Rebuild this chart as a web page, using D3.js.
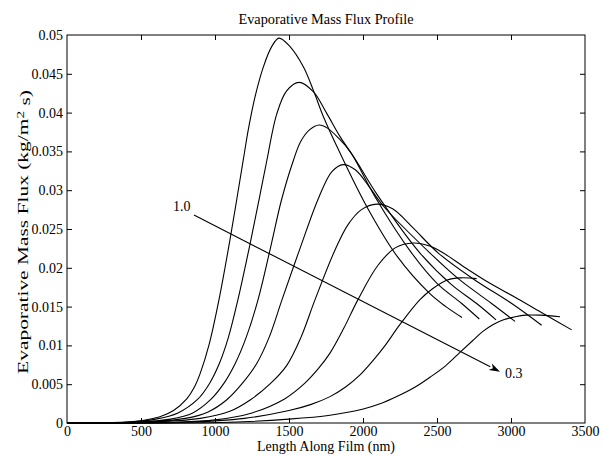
<!DOCTYPE html>
<html><head><meta charset="utf-8">
<script src="https://cdn.jsdelivr.net/npm/d3@7"></script>
<style>
body{margin:0;background:#fff}
svg text{font-family:"Liberation Serif","Times New Roman",Times,serif;fill:#000}
</style>
</head><body>
<svg id="chart" width="603" height="455" font-family="Liberation Serif, Times New Roman, serif"></svg>
<script>
// ---- data ----
const xTicks = [0, 500, 1000, 1500, 2000, 2500, 3000, 3500];
const yTicks = [0, 0.005, 0.01, 0.015, 0.02, 0.025, 0.03, 0.035, 0.04, 0.045, 0.05];
const yTickLabels = ["0", "0.005", "0.01", "0.015", "0.02", "0.025", "0.03", "0.035", "0.04", "0.045", "0.05"];
const seriesNames = ["1.0", "0.9", "0.8", "0.7", "0.6", "0.5", "0.4", "0.3"];

const s10 = [[0,0],[300,0.00005],[500,0.0003],[628,0.0008],[720,0.0016],[809,0.0031],[860,0.0046],[900,0.0064],[960,0.0101],[1027,0.0159],[1101,0.0236],[1191,0.0339],[1225,0.0378],[1270,0.0420],[1327,0.0459],[1383,0.0485],[1432,0.0496],[1507,0.0485],[1597,0.0459],[1664,0.0429],[1732,0.0395],[1832,0.0353],[2025,0.0279],[2230,0.0215],[2450,0.0167],[2560,0.0150],[2669,0.0136]];
const s09 = [[0,0],[400,0.0001],[600,0.0005],[750,0.0013],[880,0.0030],[960,0.0050],[1030,0.0077],[1090,0.0110],[1155,0.0159],[1236,0.0230],[1300,0.0290],[1349,0.0337],[1417,0.0398],[1484,0.0428],[1568,0.0439],[1664,0.0427],[1755,0.0399],[1845,0.0369],[1935,0.0343],[2080,0.0292],[2329,0.0219],[2500,0.0180],[2667,0.0154],[2786,0.0134]];
const s08 = [[0,0],[450,0.0001],[700,0.0005],[850,0.0013],[970,0.0030],[1060,0.0051],[1135,0.0076],[1210,0.0110],[1291,0.0159],[1380,0.0230],[1450,0.0288],[1529,0.0338],[1580,0.0363],[1640,0.0378],[1703,0.0384],[1760,0.0380],[1840,0.0366],[1912,0.0350],[2100,0.0293],[2385,0.0219],[2600,0.0178],[2768,0.0154],[2899,0.0133]];
const s07 = [[0,0],[500,0.0001],[800,0.0006],[950,0.0014],[1080,0.0030],[1180,0.0050],[1280,0.0076],[1365,0.0110],[1453,0.0159],[1580,0.0228],[1700,0.0290],[1790,0.0324],[1867,0.0333],[1950,0.0326],[2040,0.0305],[2140,0.0279],[2453,0.0219],[2650,0.0185],[2869,0.0154],[3027,0.0131]];
const s06 = [[0,0],[550,0.0001],[900,0.0006],[1100,0.0015],[1240,0.0030],[1370,0.0050],[1484,0.0074],[1580,0.0110],[1676,0.0159],[1811,0.0223],[1900,0.0256],[1990,0.0275],[2092,0.0282],[2200,0.0276],[2330,0.0253],[2509,0.0219],[2750,0.0185],[3005,0.0154],[3207,0.0126]];
const s05 = [[0,0],[700,0.0001],[1000,0.0004],[1250,0.0013],[1470,0.0031],[1600,0.0050],[1698,0.0070],[1777,0.0090],[1870,0.0122],[1966,0.0159],[2100,0.0203],[2220,0.0226],[2341,0.0232],[2450,0.0228],[2543,0.0219],[2700,0.0199],[2858,0.0180],[3019,0.0163],[3200,0.0143],[3410,0.0120]];
const s04 = [[0,0],[800,0.0001],[1200,0.0006],[1500,0.0016],[1650,0.0024],[1777,0.0034],[1880,0.0046],[1980,0.0062],[2070,0.0081],[2150,0.0100],[2250,0.0127],[2385,0.0159],[2470,0.0173],[2565,0.0184],[2660,0.0187],[2768,0.0186]];
const s03 = [[0,0],[1100,0.0001],[1500,0.0005],[1777,0.0010],[2002,0.0018],[2120,0.0025],[2228,0.0034],[2350,0.0046],[2453,0.0059],[2560,0.0074],[2655,0.0091],[2740,0.0106],[2810,0.0118],[2880,0.0127],[2950,0.0133],[3030,0.0137],[3100,0.0139],[3200,0.0139],[3331,0.0137]];

// annotation arrow (data coordinates)
const arrowStart = [858, 0.0268];
const arrowEnd = [2926, 0.0066];
const labelFirst = [716, 0.0273];
const labelLast = [2959, 0.0058];

// ---- drawing ----
const series = [s10, s09, s08, s07, s06, s05, s04, s03];
const svg = d3.select("#chart");
const L = 67, R = 585, T = 35, B = 423;
const x = d3.scaleLinear().domain([0, 3500]).range([L, R]);
const y = d3.scaleLinear().domain([0, 0.05]).range([B, T]);
const FF = '"Liberation Serif","Times New Roman",Times,serif';
const fs = "14px";

svg.append("rect").attr("width", 603).attr("height", 455).attr("fill", "#fff");

const gB = svg.append("g").attr("transform", `translate(0,${B})`)
  .call(d3.axisBottom(x).tickValues(xTicks).tickFormat(d3.format("d")).tickSizeInner(-5).tickSizeOuter(0).tickPadding(3));
const gT = svg.append("g").attr("transform", `translate(0,${T})`)
  .call(d3.axisTop(x).tickValues(xTicks).tickFormat("").tickSizeInner(-5).tickSizeOuter(0));
const gL = svg.append("g").attr("transform", `translate(${L},0)`)
  .call(d3.axisLeft(y).tickValues(yTicks).tickFormat((d, i) => yTickLabels[i]).tickSizeInner(-5).tickSizeOuter(0).tickPadding(4));
const gR = svg.append("g").attr("transform", `translate(${R},0)`)
  .call(d3.axisRight(y).tickValues(yTicks).tickFormat("").tickSizeInner(-5).tickSizeOuter(0));
[gB, gT, gL, gR].forEach(g => {
  g.attr("font-family", FF).attr("font-size", fs);
  g.select(".domain").remove();
  g.selectAll("line").attr("stroke", "#000").attr("stroke-width", 1);
  g.selectAll("text").attr("font-family", FF).style("font-family", FF).style("font-size", fs).attr("fill", "#000");
});
gB.selectAll(".tick").filter(d => d === 0 || d === 3500).select("line").remove();
gT.selectAll(".tick").filter(d => d === 0 || d === 3500).select("line").remove();
gL.selectAll(".tick").filter(d => d === 0 || d === 0.05).select("line").remove();
gR.selectAll(".tick").filter(d => d === 0 || d === 0.05).select("line").remove();

// curves
const line = d3.line().x(d => x(d[0])).y(d => y(Math.max(0, d[1]))).curve(d3.curveCatmullRom.alpha(0.5));
svg.append("g").selectAll("path").data(series).join("path")
  .attr("d", line).attr("fill", "none").attr("stroke", "#000").attr("stroke-width", 1.1);

// box
svg.append("rect").attr("x", L).attr("y", T).attr("width", R - L).attr("height", B - T)
  .attr("fill", "none").attr("stroke", "#000").attr("stroke-width", 1);

// arrow annotation
const x1 = x(arrowStart[0]), y1 = y(arrowStart[1]), x2 = x(arrowEnd[0]), y2 = y(arrowEnd[1]);
const ang = Math.atan2(y2 - y1, x2 - x1), hl = 11, hw = 3.6;
const bx = x2 - hl * Math.cos(ang), by = y2 - hl * Math.sin(ang);
svg.append("line").attr("x1", x1).attr("y1", y1).attr("x2", bx).attr("y2", by)
  .attr("stroke", "#000").attr("stroke-width", 1.1);
svg.append("path")
  .attr("d", `M${x2},${y2}L${bx + hw * Math.sin(ang)},${by - hw * Math.cos(ang)}L${bx + 3 * Math.cos(ang)},${by + 3 * Math.sin(ang)}L${bx - hw * Math.sin(ang)},${by + hw * Math.cos(ang)}Z`)
  .attr("fill", "#000");
const addText = () => svg.append("text").attr("font-family", FF).style("font-family", FF).style("font-size", fs);
addText().attr("x", x(labelFirst[0])).attr("y", y(labelFirst[1])).text(seriesNames[0]);
addText().attr("x", x(labelLast[0])).attr("y", y(labelLast[1])).text(seriesNames[seriesNames.length - 1]);

// titles
addText().attr("x", (L + R) / 2).attr("y", 24).attr("text-anchor", "middle").style("font-size", "14.3px").text("Evaporative Mass Flux Profile");
addText().attr("x", (L + R) / 2).attr("y", 451).attr("text-anchor", "middle").text("Length Along Film (nm)");
// y label: the reference shows it stretched along its length
const yl = addText().attr("text-anchor", "middle");
yl.append("tspan").text("Evaporative Mass Flux (kg/m");
yl.append("tspan").attr("dy", "-0.45em").style("font-size", "10px").text("2");
yl.append("tspan").attr("dy", "0.45em").text(" s)");
const natural = yl.node().getComputedTextLength() || 190;
const stretch = 284 / natural;
yl.attr("transform", `translate(28,232) rotate(-90) scale(${stretch},1)`);
</script>
</body></html>
